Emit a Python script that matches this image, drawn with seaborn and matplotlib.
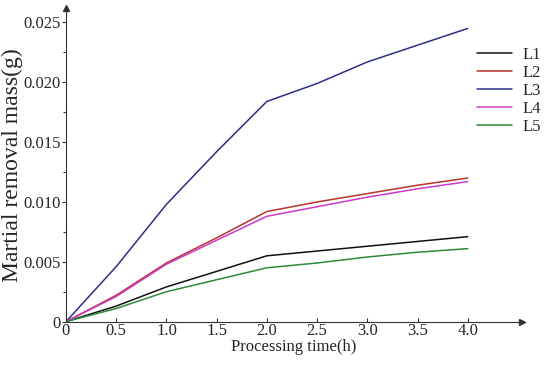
import numpy as np
import pandas as pd
import matplotlib
matplotlib.use("Agg")
import matplotlib.pyplot as plt
import seaborn as sns

# processing time (h)
time_h = [0, 0.5, 1.0, 1.5, 2.0, 2.5, 3.0, 3.5, 4.0]

# material removal mass (g)
L1 = [0, 0.0013, 0.0029, 0.0042, 0.0055, 0.0059, 0.0063, 0.0067, 0.0071]
L2 = [0, 0.0022, 0.0049, 0.0070, 0.0092, 0.0100, 0.0107, 0.0114, 0.0120]
L3 = [0, 0.0046, 0.0098, 0.0142, 0.0184, 0.0199, 0.0217, 0.0231, 0.0245]
L4 = [0, 0.0021, 0.0048, 0.0068, 0.0088, 0.0096, 0.0104, 0.0111, 0.0117]
L5 = [0, 0.0011, 0.0025, 0.0035, 0.0045, 0.0049, 0.0054, 0.0058, 0.0061]

series_names = ["L1", "L2", "L3", "L4", "L5"]
series_colors = ["#111111", "#b5342b", "#2b2e8c", "#cc3acc", "#2f8a3a"]

x_ticks = [0, 0.5, 1.0, 1.5, 2.0, 2.5, 3.0, 3.5, 4.0]
x_tick_labels = ["0", "0.5", "1.0", "1.5", "2.0", "2.5", "3.0", "3.5", "4.0"]
y_ticks = [0, 0.005, 0.010, 0.015, 0.020, 0.025]
y_tick_labels = ["0", "0.005", "0.010", "0.015", "0.020", "0.025"]

df = pd.DataFrame({
    "time": time_h * 5,
    "mass": L1 + L2 + L3 + L4 + L5,
    "line": [n for n in series_names for _ in time_h],
})

sns.set_style("ticks")
plt.rcParams["font.family"] = ["Liberation Serif", "DejaVu Serif"]
plt.rcParams["font.size"] = 12

fig = plt.figure(figsize=(5.5, 3.68), dpi=100)
ax = fig.add_axes([0.12, 0.126, 0.829, 0.852])

sns.lineplot(data=df, x="time", y="mass", hue="line", hue_order=series_names,
             palette=series_colors, linewidth=1.1, ax=ax, legend=False)

ax.set_xlim(0, 4.54)
ax.set_ylim(0, 0.0262)
ax.set_xticks(x_ticks)
ax.set_xticklabels(x_tick_labels)
ax.set_yticks(y_ticks)
ax.set_yticklabels(y_tick_labels)
ax.set_yticks(np.arange(0.0025, 0.025, 0.005), minor=True)
ax.tick_params(axis="both", which="major", labelsize=12, length=3, width=0.8,
               color="#333333", pad=1)
ax.tick_params(axis="y", which="minor", length=2, width=0.8, color="#333333")
ax.tick_params(axis="x", direction="in")

for side in ["top", "right"]:
    ax.spines[side].set_visible(False)
for side in ["left", "bottom"]:
    ax.spines[side].set_linewidth(0.8)
    ax.spines[side].set_color("#333333")

# arrow heads on the axes
ax.plot(1, 0, ">", color="#333333", markersize=4, transform=ax.get_yaxis_transform(), clip_on=False)
ax.plot(0, 1, "^", color="#333333", markersize=4, transform=ax.get_xaxis_transform(), clip_on=False)

ax.set_xlabel("Processing time(h)", fontsize=12, labelpad=0)
ax.set_ylabel("Martial removal mass(g)", fontsize=17, labelpad=0)

handles = [plt.Line2D([], [], color=c, linewidth=1.1) for c in series_colors]
fig.legend(handles, series_names, loc="upper left", bbox_to_anchor=(0.856, 0.89),
           frameon=False, fontsize=12, handlelength=2.1, handletextpad=0.6,
           labelspacing=0.12, borderaxespad=0)

fig.savefig("out.png", dpi=100)
